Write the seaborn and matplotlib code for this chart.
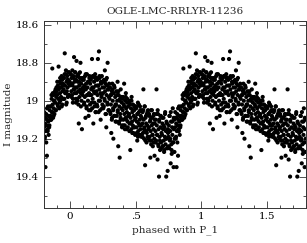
import matplotlib
matplotlib.use("Agg")
import matplotlib.pyplot as plt
from matplotlib.ticker import MultipleLocator, FixedLocator
import numpy as np
import pandas as pd
import seaborn as sns

# one cycle of the phased light curve (phase 0..1)
phase = [
    0.002, 0.005, 0.009, 0.011, 0.014, 0.017, 0.019, 0.022, 0.025, 0.027, 0.030, 0.033, 0.036, 0.038, 0.041, 0.044, 0.046, 0.049,
    0.051, 0.053, 0.056, 0.058, 0.061, 0.064, 0.066, 0.069, 0.071, 0.074, 0.077, 0.079, 0.082, 0.085, 0.088, 0.090, 0.093, 0.096, 0.098,
    0.101, 0.104, 0.106, 0.109, 0.112, 0.114, 0.117, 0.120, 0.122, 0.125, 0.128, 0.130, 0.133, 0.136, 0.138, 0.141, 0.144, 0.147,
    0.151, 0.153, 0.156, 0.159, 0.161, 0.164, 0.167, 0.169, 0.172, 0.175, 0.177, 0.180, 0.183, 0.186, 0.188, 0.191, 0.194, 0.197,
    0.201, 0.204, 0.206, 0.209, 0.212, 0.214, 0.217, 0.220, 0.223, 0.225, 0.228, 0.231, 0.233, 0.236, 0.239, 0.242, 0.244, 0.247,
    0.251, 0.254, 0.257, 0.259, 0.262, 0.265, 0.267, 0.270, 0.273, 0.276, 0.278, 0.281, 0.284, 0.286, 0.289, 0.292, 0.295, 0.298,
    0.301, 0.303, 0.306, 0.309, 0.311, 0.314, 0.317, 0.320, 0.322, 0.325, 0.328, 0.330, 0.333, 0.336, 0.339, 0.341, 0.344, 0.347,
    0.351, 0.353, 0.356, 0.359, 0.362, 0.364, 0.367, 0.370, 0.372, 0.375, 0.378, 0.380, 0.383, 0.386, 0.388, 0.391, 0.394, 0.397,
    0.401, 0.404, 0.406, 0.409, 0.412, 0.414, 0.417, 0.420, 0.423, 0.425, 0.428, 0.431, 0.433, 0.436, 0.439, 0.442, 0.444, 0.447,
    0.451, 0.453, 0.456, 0.459, 0.461, 0.464, 0.467, 0.469, 0.472, 0.475, 0.478, 0.480, 0.483, 0.486, 0.489, 0.491, 0.494, 0.497,
    0.501, 0.504, 0.506, 0.509, 0.512, 0.514, 0.517, 0.520, 0.523, 0.525, 0.528, 0.531, 0.533, 0.536, 0.539, 0.542, 0.544, 0.547,
    0.551, 0.553, 0.556, 0.559, 0.561, 0.564, 0.567, 0.569, 0.572, 0.575, 0.578, 0.580, 0.583, 0.586, 0.589, 0.591, 0.594, 0.597,
    0.601, 0.604, 0.606, 0.609, 0.612, 0.614, 0.617, 0.620, 0.623, 0.625, 0.628, 0.631, 0.633, 0.636, 0.639, 0.642, 0.644, 0.647,
    0.651, 0.653, 0.656, 0.659, 0.661, 0.664, 0.667, 0.670, 0.672, 0.675, 0.678, 0.680, 0.683, 0.686, 0.689, 0.691, 0.694, 0.697,
    0.701, 0.704, 0.706, 0.709, 0.712, 0.714, 0.717, 0.720, 0.723, 0.725, 0.728, 0.731, 0.733, 0.736, 0.739, 0.742, 0.744, 0.747,
    0.751, 0.753, 0.756, 0.759, 0.761, 0.764, 0.767, 0.770, 0.772, 0.775, 0.778, 0.780, 0.783, 0.786, 0.789, 0.791, 0.794, 0.797,
    0.801, 0.804, 0.806, 0.809, 0.812, 0.814, 0.817, 0.820, 0.823, 0.825, 0.828, 0.831, 0.833, 0.836, 0.839, 0.842, 0.844, 0.847,
    0.851, 0.853, 0.856, 0.859, 0.861, 0.864, 0.867, 0.870, 0.872, 0.875, 0.878, 0.880, 0.883, 0.886, 0.889, 0.891, 0.894, 0.897,
    0.901, 0.904, 0.906, 0.909, 0.912, 0.914, 0.917, 0.920, 0.923, 0.925, 0.928, 0.931, 0.933, 0.936, 0.939, 0.942, 0.944, 0.947,
    0.951, 0.953, 0.956, 0.959, 0.961, 0.964, 0.967, 0.970, 0.972, 0.975, 0.978, 0.980, 0.983, 0.986, 0.989, 0.991, 0.994, 0.997,
]
imag = [
    18.91, 18.86, 18.95, 18.88, 18.97, 18.84, 18.92, 18.99, 18.87, 18.94, 18.77, 18.90, 18.96, 18.85, 18.93, 19.01, 18.89, 18.79,
    18.93, 18.87, 19.00, 18.90, 18.95, 18.86, 19.12, 18.92, 18.98, 18.88, 18.94, 18.80, 19.03, 18.91, 18.96, 19.15, 18.89, 18.97, 18.93,
    18.95, 18.89, 19.02, 18.92, 18.98, 18.87, 19.09, 18.94, 18.91, 19.04, 18.86, 18.97, 18.93, 19.00, 18.90, 19.08, 18.96, 18.88,
    18.97, 18.91, 19.05, 18.88, 18.94, 19.01, 18.78, 18.93, 18.99, 18.87, 19.12, 18.95, 18.90, 19.03, 18.96, 18.86, 19.06, 18.92,
    18.95, 19.02, 18.89, 18.97, 18.78, 18.92, 19.06, 18.74, 18.94, 18.88, 19.00, 18.96, 19.10, 18.91, 18.98, 18.87, 19.04, 18.93,
    18.96, 18.90, 19.03, 18.93, 18.99, 18.84, 18.95, 19.07, 18.89, 19.14, 18.97, 18.92, 19.01, 18.80, 18.94, 19.05, 18.98, 18.91,
    18.99, 18.93, 19.06, 18.97, 19.02, 19.17, 18.95, 19.09, 18.91, 19.00, 19.04, 19.20, 18.96, 19.08, 18.93, 19.03, 18.98, 19.11,
    19.02, 18.95, 19.08, 19.00, 18.90, 19.05, 19.24, 18.97, 19.11, 19.03, 19.30, 18.99, 19.07, 18.94, 19.10, 19.04, 19.01, 19.13,
    19.05, 18.98, 19.10, 19.02, 18.91, 19.07, 19.13, 19.00, 19.09, 18.96, 19.04, 19.15, 19.06, 18.99, 19.11, 19.03, 19.08, 19.01,
    19.07, 19.12, 19.00, 19.26, 19.09, 19.04, 19.15, 18.98, 19.11, 19.06, 19.13, 19.02, 19.17, 19.08, 19.05, 19.14, 19.10, 19.03,
    19.09, 19.04, 19.14, 19.11, 19.21, 19.07, 19.01, 19.16, 19.12, 19.06, 19.18, 19.10, 19.03, 19.15, 19.08, 19.13, 19.19, 19.05,
    19.12, 19.06, 19.17, 18.94, 19.10, 19.20, 19.14, 19.03, 19.34, 19.09, 19.16, 19.12, 19.22, 19.07, 19.13, 19.19, 19.05, 19.15,
    19.14, 19.08, 19.19, 19.11, 19.30, 19.16, 19.05, 19.21, 19.13, 19.09, 19.18, 19.24, 19.12, 19.15, 19.07, 19.20, 19.29, 19.10,
    19.16, 19.10, 19.21, 18.94, 19.13, 19.18, 19.31, 19.07, 19.23, 19.15, 19.40, 19.11, 19.19, 19.26, 19.14, 19.08, 19.22, 19.17,
    19.18, 19.12, 19.24, 19.15, 19.09, 19.21, 19.27, 19.14, 19.19, 19.06, 19.23, 19.16, 19.40, 19.20, 19.12, 19.25, 19.37, 19.17,
    19.19, 19.13, 19.25, 19.08, 19.21, 19.16, 19.33, 19.11, 19.23, 19.28, 19.14, 19.18, 19.04, 19.22, 19.35, 19.15, 19.10, 19.20,
    19.14, 19.09, 19.20, 19.12, 19.35, 19.16, 19.07, 19.13, 19.29, 19.10, 19.15, 19.03, 19.11, 19.18, 19.08, 19.13, 19.05, 19.10,
    19.08, 19.03, 19.10, 18.99, 19.06, 18.83, 19.02, 19.09, 18.97, 19.04, 19.00, 19.07, 18.96, 19.01, 18.94, 19.05, 18.98, 18.95,
    18.97, 19.02, 18.92, 18.99, 18.82, 18.94, 19.04, 18.90, 18.96, 19.00, 18.91, 18.98, 18.93, 19.03, 18.89, 18.95, 18.92, 18.99,
    18.94, 18.88, 18.99, 18.75, 18.92, 18.96, 18.86, 19.02, 18.90, 18.95, 18.87, 18.93, 18.98, 18.89, 18.91, 18.85, 18.97, 18.90,
]

# extra points filling the band
phase_b = [
    0.004, 0.010, 0.016, 0.021, 0.028, 0.032, 0.039, 0.043, 0.048,
    0.054, 0.060, 0.063, 0.070, 0.075, 0.081, 0.087, 0.092, 0.097,
    0.103, 0.108, 0.115, 0.119, 0.126, 0.131, 0.137, 0.143, 0.148,
    0.152, 0.158, 0.163, 0.168, 0.174, 0.179, 0.185, 0.190, 0.196,
    0.203, 0.208, 0.213, 0.219, 0.224, 0.229, 0.235, 0.240, 0.246,
    0.253, 0.258, 0.264, 0.269, 0.274, 0.280, 0.285, 0.291, 0.296,
    0.302, 0.308, 0.313, 0.318, 0.324, 0.329, 0.335, 0.340, 0.346,
    0.352, 0.358, 0.363, 0.368, 0.374, 0.379, 0.385, 0.390, 0.396,
    0.402, 0.408, 0.413, 0.418, 0.424, 0.429, 0.435, 0.440, 0.446,
    0.452, 0.458, 0.463, 0.468, 0.474, 0.479, 0.485, 0.490, 0.496,
    0.502, 0.508, 0.513, 0.518, 0.524, 0.529, 0.535, 0.540, 0.546,
    0.552, 0.558, 0.563, 0.568, 0.574, 0.579, 0.585, 0.590, 0.596,
    0.602, 0.608, 0.613, 0.618, 0.624, 0.629, 0.635, 0.640, 0.646,
    0.652, 0.658, 0.663, 0.668, 0.674, 0.679, 0.685, 0.690, 0.696,
    0.702, 0.708, 0.713, 0.718, 0.724, 0.729, 0.735, 0.740, 0.746,
    0.752, 0.758, 0.763, 0.768, 0.774, 0.779, 0.785, 0.790, 0.796,
    0.802, 0.808, 0.813, 0.818, 0.824, 0.829, 0.835, 0.840, 0.846,
    0.852, 0.858, 0.863, 0.868, 0.874, 0.879, 0.885, 0.890, 0.896,
    0.902, 0.908, 0.913, 0.918, 0.924, 0.929, 0.935, 0.940, 0.946,
    0.952, 0.958, 0.963, 0.968, 0.974, 0.979, 0.985, 0.990, 0.996,
]
imag_b = [
    18.86, 18.98, 18.91, 19.01, 18.88, 18.94, 18.85, 18.99, 18.96,
    18.99, 18.87, 19.02, 18.90, 18.85, 18.96, 19.00, 18.88, 18.94,
    18.88, 19.01, 18.93, 18.86, 19.03, 18.97, 18.90, 19.05, 18.87,
    19.02, 18.89, 18.97, 19.04, 18.87, 18.93, 19.01, 18.88, 19.06,
    18.88, 19.03, 18.92, 19.00, 18.87, 19.05, 18.90, 18.97, 19.02,
    19.04, 18.89, 19.00, 18.91, 19.07, 18.88, 19.02, 18.94, 19.05,
    18.93, 19.07, 18.97, 19.10, 18.94, 19.05, 18.92, 19.08, 19.02,
    19.11, 18.97, 19.06, 18.95, 19.12, 19.00, 19.09, 18.98, 19.14,
    18.99, 19.13, 19.03, 19.15, 18.98, 19.10, 19.01, 19.14, 19.08,
    19.16, 19.02, 19.12, 19.00, 19.17, 19.05, 19.14, 19.03, 19.18,
    19.03, 19.17, 19.07, 19.19, 19.02, 19.13, 19.05, 19.18, 19.09,
    19.19, 19.05, 19.15, 19.03, 19.21, 19.08, 19.17, 19.06, 19.20,
    19.07, 19.21, 19.10, 19.23, 19.05, 19.18, 19.08, 19.22, 19.12,
    19.22, 19.07, 19.18, 19.05, 19.24, 19.10, 19.21, 19.08, 19.25,
    19.09, 19.24, 19.13, 19.26, 19.07, 19.20, 19.11, 19.25, 19.15,
    19.24, 19.08, 19.20, 19.06, 19.26, 19.11, 19.22, 19.09, 19.27,
    19.06, 19.19, 19.09, 19.22, 19.04, 19.16, 19.08, 19.14, 19.03,
    19.10, 18.97, 19.06, 18.96, 19.08, 19.00, 18.95, 19.05, 18.93,
    18.90, 19.03, 18.93, 19.01, 18.88, 18.99, 18.87, 19.02, 18.91,
    18.99, 18.86, 18.96, 18.84, 19.01, 18.89, 18.97, 18.85, 18.92,
]

title = "OGLE-LMC-RRLYR-11236"
xticks = [0, 0.5, 1, 1.5]
xticklabels = ["0", ".5", "1", "1.5"]
yticks = [18.6, 18.8, 19.0, 19.2, 19.4]
yticklabels = ["18.6", "18.8", "19", "19.2", "19.4"]

# same cycle shown three times (phase-1, phase, phase+1), clipped by the x range
df = pd.DataFrame({"phase": phase + phase_b, "imag": imag + imag_b})
df = pd.concat([df.assign(phase=df.phase + k) for k in (-1, 0, 1)], ignore_index=True)
df = df[(df.phase >= -0.2) & (df.phase <= 1.8)]

sns.set_style("ticks")
plt.rcParams["font.family"] = ["DejaVu Serif"]

fig = plt.figure(figsize=(3.07, 2.43), dpi=100)
ax = fig.add_axes([0.143, 0.146, 0.854, 0.768])

sns.scatterplot(data=df, x="phase", y="imag", ax=ax, color="black",
                s=9, edgecolor="none", linewidth=0, legend=False)

ax.set_xlim(-0.2, 1.8)
ax.set_ylim(19.563, 18.579)
ax.xaxis.set_major_locator(FixedLocator(xticks))
ax.set_xticklabels(xticklabels)
ax.xaxis.set_minor_locator(MultipleLocator(0.1))
ax.yaxis.set_major_locator(FixedLocator(yticks))
ax.set_yticklabels(yticklabels)
ax.yaxis.set_minor_locator(MultipleLocator(0.1))
ax.tick_params(which="both", direction="in", top=True, right=True,
               labelsize=7.5, width=0.6, colors="#333333", labelcolor="black")
ax.tick_params(which="major", length=5)
ax.tick_params(which="minor", length=2.5)
for sp in ax.spines.values():
    sp.set_linewidth(0.7)
    sp.set_color("#333333")

ax.set_title(title, fontsize=7.5, pad=5)
ax.set_xlabel("phased with P_1", fontsize=7.5, labelpad=3)
ax.set_ylabel("I magnitude", fontsize=7.5, labelpad=2)

fig.savefig("out.png", dpi=100)
